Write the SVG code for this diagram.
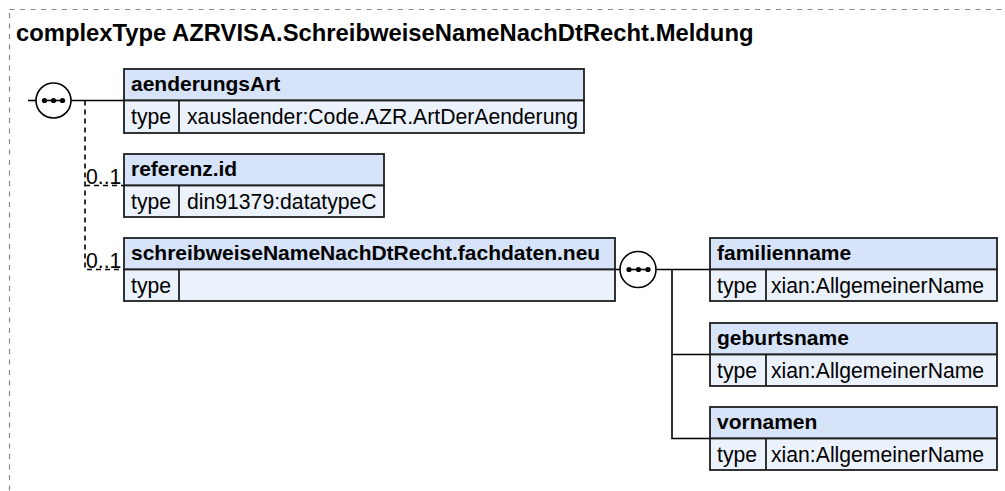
<svg xmlns="http://www.w3.org/2000/svg" width="1005" height="491" viewBox="0 0 1005 491">
<style>
.frame{fill:none;stroke:#8a8a8a;stroke-width:1.2;stroke-dasharray:5 5.5}
.title{font-family:"Liberation Sans",Arial,sans-serif;font-weight:bold;font-size:23.8px;fill:#000}
.hd{fill:#d6e3f8;stroke:#1e1e1e;stroke-width:1.8}
.rw{fill:#ecf2fc;stroke:#1e1e1e;stroke-width:1.8}
.dv{stroke:#1e1e1e;stroke-width:1.8}
.nm{font-family:"Liberation Sans",Arial,sans-serif;font-weight:bold;font-size:21px;fill:#000}
.tx{font-family:"Liberation Sans",Arial,sans-serif;font-size:21.2px;fill:#000}
.ln{fill:none;stroke:#000;stroke-width:1.6}
.dl{fill:none;stroke:#000;stroke-width:1.6;stroke-dasharray:5 4}
.cmp{fill:#fff;stroke:#000;stroke-width:1.6}
.dot{fill:#000}
</style>
<rect class="frame" x="9.5" y="9.5" width="1100" height="600"/>
<text class="title" x="16" y="41">complexType AZRVISA.SchreibweiseNameNachDtRecht.Meldung</text>

<g id="connectors">
  <line class="ln" x1="28" y1="100.5" x2="36" y2="100.5"/>
  <line class="ln" x1="71" y1="100.5" x2="124" y2="100.5"/>
  <polyline class="dl" points="85,100.5 85,269.5 124,269.5"/>
  <line class="dl" x1="85" y1="185.5" x2="124" y2="185.5"/>
  <line class="ln" x1="615" y1="269.5" x2="620" y2="269.5"/>
  <line class="ln" x1="656" y1="269.5" x2="710" y2="269.5"/>
  <polyline class="ln" points="672,269.5 672,438.5 710,438.5"/>
  <line class="ln" x1="672" y1="354.5" x2="710" y2="354.5"/>
  <text class="tx" x="86" y="184">0..1</text>
  <text class="tx" x="86" y="268">0..1</text>
</g>

<g id="seq1">
  <circle class="cmp" cx="53.5" cy="100.5" r="17.5"/>
  <line class="ln" x1="42" y1="100.5" x2="65" y2="100.5"/>
  <circle class="dot" cx="44.5" cy="100.5" r="2.6"/>
  <circle class="dot" cx="53.5" cy="100.5" r="2.6"/>
  <circle class="dot" cx="62.5" cy="100.5" r="2.6"/>
</g>

<g id="seq2">
  <circle class="cmp" cx="638" cy="269.5" r="18"/>
  <line class="ln" x1="627" y1="269.5" x2="650" y2="269.5"/>
  <circle class="dot" cx="629" cy="269.5" r="2.6"/>
  <circle class="dot" cx="638.5" cy="269.5" r="2.6"/>
  <circle class="dot" cx="648" cy="269.5" r="2.6"/>
</g>

<g id="aenderungsArt">
  <rect class="hd" x="124" y="69" width="460" height="31.5"/>
  <rect class="rw" x="124" y="100.5" width="460" height="32.5"/>
  <line class="dv" x1="179" y1="100.5" x2="179" y2="133"/>
  <text class="nm" x="131" y="91">aenderungsArt</text>
  <text class="tx" x="131" y="124">type</text>
  <text class="tx" x="187" y="124">xauslaender:Code.AZR.ArtDerAenderung</text>
</g>

<g id="referenz.id">
  <rect class="hd" x="124" y="154" width="260" height="31.5"/>
  <rect class="rw" x="124" y="185.5" width="260" height="31.5"/>
  <line class="dv" x1="179" y1="185.5" x2="179" y2="217"/>
  <text class="nm" x="131" y="176">referenz.id</text>
  <text class="tx" x="131" y="208.5">type</text>
  <text class="tx" x="187" y="208.5">din91379:datatypeC</text>
</g>

<g id="schreibweiseNameNachDtRecht.fachdaten.neu">
  <rect class="hd" x="124" y="238" width="491" height="31.5"/>
  <rect class="rw" x="124" y="269.5" width="491" height="31.5"/>
  <line class="dv" x1="179" y1="269.5" x2="179" y2="301"/>
  <text class="nm" x="131" y="260">schreibweiseNameNachDtRecht.fachdaten.neu</text>
  <text class="tx" x="131" y="292.5">type</text>
</g>

<g id="familienname">
  <rect class="hd" x="710" y="238" width="287" height="31.5"/>
  <rect class="rw" x="710" y="269.5" width="287" height="31.5"/>
  <line class="dv" x1="766" y1="269.5" x2="766" y2="301"/>
  <text class="nm" x="717" y="260">familienname</text>
  <text class="tx" x="717" y="292.5">type</text>
  <text class="tx" x="771" y="292.5">xian:AllgemeinerName</text>
</g>

<g id="geburtsname">
  <rect class="hd" x="710" y="323" width="287" height="31.5"/>
  <rect class="rw" x="710" y="354.5" width="287" height="31.5"/>
  <line class="dv" x1="766" y1="354.5" x2="766" y2="386"/>
  <text class="nm" x="717" y="345">geburtsname</text>
  <text class="tx" x="717" y="377.5">type</text>
  <text class="tx" x="771" y="377.5">xian:AllgemeinerName</text>
</g>

<g id="vornamen">
  <rect class="hd" x="710" y="407" width="287" height="31.5"/>
  <rect class="rw" x="710" y="438.5" width="287" height="31.5"/>
  <line class="dv" x1="766" y1="438.5" x2="766" y2="470"/>
  <text class="nm" x="717" y="429">vornamen</text>
  <text class="tx" x="717" y="461.5">type</text>
  <text class="tx" x="771" y="461.5">xian:AllgemeinerName</text>
</g>
</svg>
